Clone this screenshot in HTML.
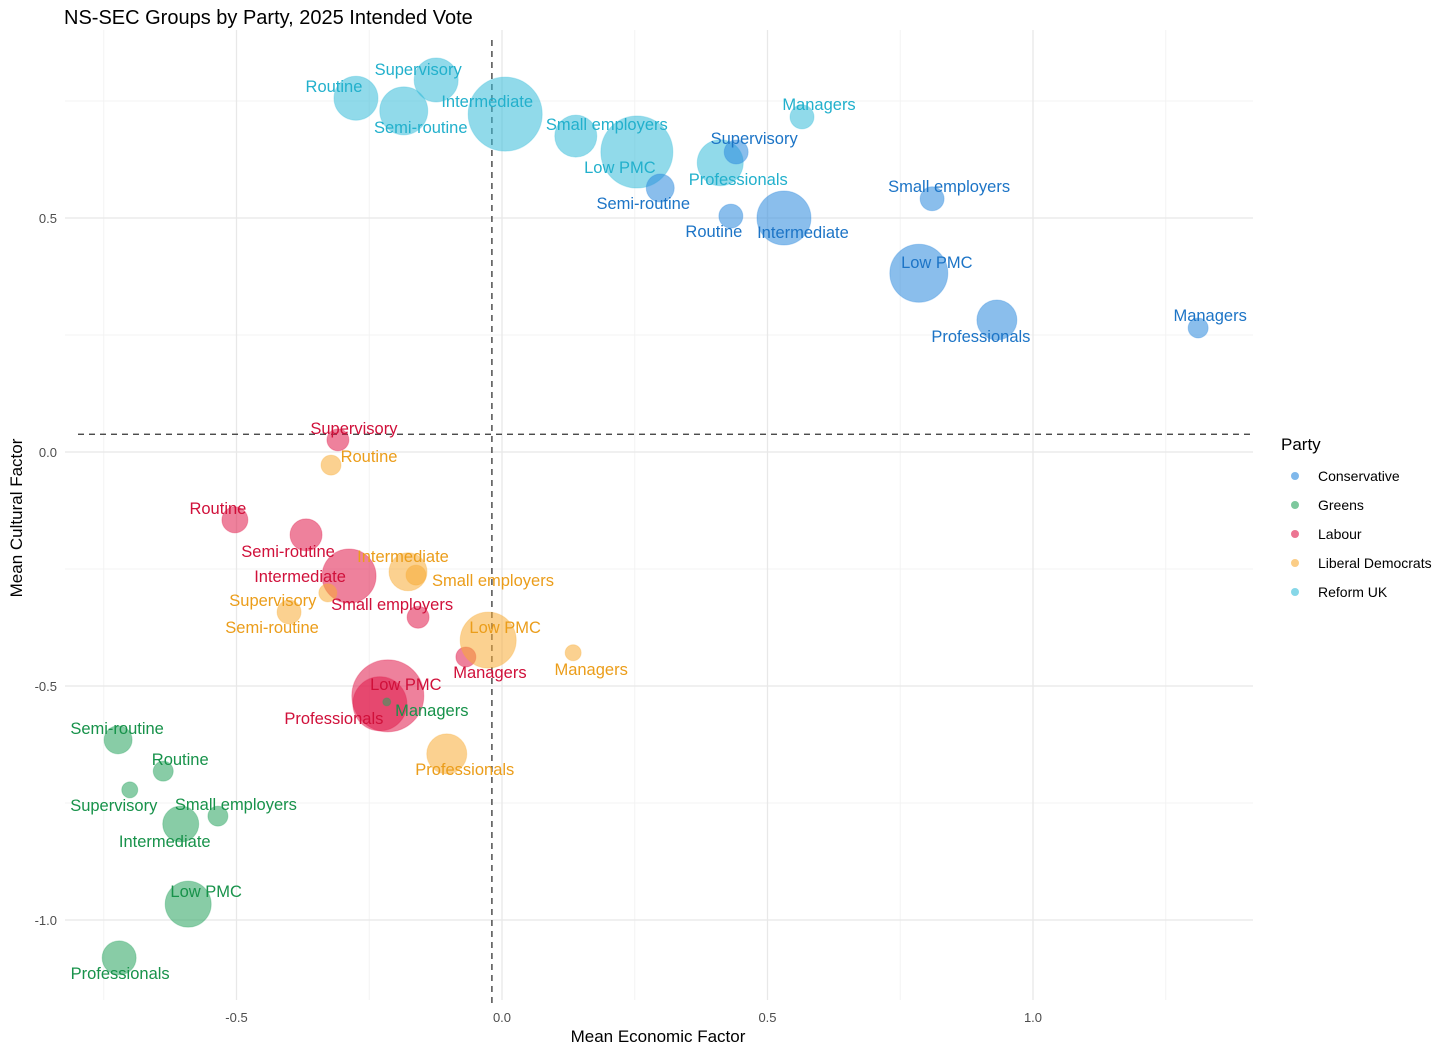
<!DOCTYPE html>
<html><head><meta charset="utf-8"><style>
body{margin:0;background:#fff;font-family:"Liberation Sans",sans-serif}
svg{display:block}
</style></head><body>
<svg id="chart" width="1456" height="1055" xmlns="http://www.w3.org/2000/svg">
<text x="64" y="24" font-size="20" fill="#000">NS-SEC Groups by Party, 2025 Intended Vote</text>
<g id="grid"></g>
<g id="axes"></g>
<g id="points"></g>
<g id="labels"></g>
<g id="legend"></g>
<text x="658" y="1042" font-size="17" text-anchor="middle">Mean Economic Factor</text>
<text transform="translate(22,518) rotate(-90)" font-size="17" text-anchor="middle">Mean Cultural Factor</text>
</svg>
<script>
const parties = ["Conservative","Greens","Labour","Liberal Democrats","Reform UK"];
const groups = ["Routine","Supervisory","Semi-routine","Intermediate","Small employers","Low PMC","Professionals","Managers"];
const econ = {
 "Reform UK":[-0.275,-0.124,-0.185,0.006,0.139,0.254,0.411,0.565],
 "Conservative":[0.431,0.441,0.298,0.531,0.810,0.785,0.932,1.311],
 "Labour":[-0.503,-0.309,-0.369,-0.288,-0.158,-0.215,-0.230,-0.068],
 "Liberal Democrats":[-0.322,-0.328,-0.401,-0.177,-0.162,-0.026,-0.104,0.134],
 "Greens":[-0.638,-0.701,-0.723,-0.605,-0.535,-0.591,-0.721,-0.217]
};
const cult = {
 "Reform UK":[0.756,0.795,0.729,0.722,0.675,0.641,0.618,0.716],
 "Conservative":[0.504,0.641,0.564,0.500,0.541,0.382,0.282,0.265],
 "Labour":[-0.145,0.026,-0.177,-0.265,-0.353,-0.521,-0.538,-0.438],
 "Liberal Democrats":[-0.028,-0.301,-0.342,-0.256,-0.263,-0.402,-0.645,-0.429],
 "Greens":[-0.682,-0.722,-0.615,-0.795,-0.778,-0.966,-1.081,-0.534]
};
const counts = {
 "Reform UK":[484,484,576,1369,441,1296,529,144],
 "Conservative":[144,144,196,729,144,841,400,100],
 "Labour":[169,121,256,729,121,1296,729,100],
 "Liberal Democrats":[100,81,144,361,100,784,400,64],
 "Greens":[100,64,196,324,100,529,289,16]
};
const xTicks=[-0.5,0,0.5,1.0], xTickLabels=["-0.5","0.0","0.5","1.0"];
const yTicks=[0.5,0,-0.5,-1.0], yTickLabels=["0.5","0.0","-0.5","-1.0"];
const xMinor=[-0.75,-0.25,0.25,0.75,1.25], yMinor=[0.75,0.25,-0.25,-0.75];
const vRef=-0.019, hRef=0.038;
// layout (label offsets in px, not data)
const labelOff = {
 "Reform UK":[[-22,-12],[-18,-11],[17,16],[-18,-13],[31,-12],[-17,15],[18,16],[17,-13]],
 "Conservative":[[-17,15],[18,-14],[-17,15],[19,14],[17,-13],[18,-11],[-16,16],[12,-13]],
 "Labour":[[-17,-12],[16,-12],[-18,16],[-49,0],[-26,-13],[18,-12],[-46,14],[24,15]],
 "Liberal Democrats":[[38,-9],[-55,7],[-17,15],[-5,-16],[77,5],[17,-13],[18,15],[18,16]],
 "Greens":[[17,-12],[-16,15],[-1,-12],[-16,17],[18,-12],[18,-13],[1,15],[45,8]]
};
const fillC={"Conservative":"#2a88dd","Greens":"#26a35c","Labour":"#e0194a","Liberal Democrats":"#f8ab35","Reform UK":"#36bcd9"};
const textC={"Conservative":"#1c74c6","Greens":"#17924a","Labour":"#d0103a","Liberal Democrats":"#eb9d1a","Reform UK":"#22b0cc"};
const X=v=>502+v*531, Y=v=>452-v*468;
const L=65,R=1253,T=30,B=1000;
const NS="http://www.w3.org/2000/svg";
function mk(tag,attrs,parent){const e=document.createElementNS(NS,tag);for(const k in attrs)e.setAttribute(k,attrs[k]);parent.appendChild(e);return e;}
const grid=document.getElementById('grid'),axes=document.getElementById('axes');
xMinor.forEach(v=>{const l=mk('line',{x1:X(v),x2:X(v),y1:T,y2:B,stroke:'#f3f3f3','stroke-width':1},grid);

});
yMinor.forEach(v=>{const l=mk('line',{x1:L,x2:R,y1:Y(v),y2:Y(v),stroke:'#f3f3f3','stroke-width':1},grid);

});
xTicks.forEach((v,i)=>{const l=mk('line',{x1:X(v),x2:X(v),y1:T,y2:B,stroke:'#e8e8e8','stroke-width':1.3},grid);


const t=mk('text',{x:X(v),y:1022,'font-size':13,fill:'#4d4d4d','text-anchor':'middle'},axes);t.textContent=xTickLabels[i];

});
yTicks.forEach((v,i)=>{const l=mk('line',{x1:L,x2:R,y1:Y(v),y2:Y(v),stroke:'#e8e8e8','stroke-width':1.3},grid);


const t=mk('text',{x:57,y:Y(v)+5,'font-size':13,fill:'#4d4d4d','text-anchor':'end'},axes);t.textContent=yTickLabels[i];

});
const vl=mk('line',{x1:X(vRef),x2:X(vRef),y1:T+10,y2:1003,stroke:'#333','stroke-width':1.3,'stroke-dasharray':'6,5'},grid);


const hl=mk('line',{x1:L+13,x2:R,y1:Y(hRef),y2:Y(hRef),stroke:'#333','stroke-width':1.3,'stroke-dasharray':'6,5'},grid);


const pts=document.getElementById('points'),lbs=document.getElementById('labels');
["Reform UK","Conservative","Labour","Liberal Democrats","Greens"].forEach(p=>{
 groups.forEach((g,i)=>{
  const cx=X(econ[p][i]),cy=Y(cult[p][i]),r=Math.sqrt(counts[p][i]);
  const c=mk('circle',{cx,cy,r,fill:fillC[p],'fill-opacity':0.55,stroke:fillC[p],'stroke-opacity':0.3,'stroke-width':1},pts);
  
  
  const o=labelOff[p][i];
  const t=mk('text',{x:cx+o[0],y:cy+o[1]+6,'font-size':16.5,fill:textC[p],'text-anchor':'middle'},lbs);
  t.textContent=g;
  
  
 });
});
const lg=document.getElementById('legend');
const lt=mk('text',{x:1281,y:450,'font-size':17},lg);lt.textContent="Party";


parties.forEach((p,i)=>{const y=476+i*29;
 const c=mk('circle',{cx:1295,cy:y,r:4,fill:fillC[p],'fill-opacity':0.6},lg);
 
 
 const t=mk('text',{x:1318,y:y+5,'font-size':14},lg);t.textContent=p;
 
 
});
</script>
</body></html>
